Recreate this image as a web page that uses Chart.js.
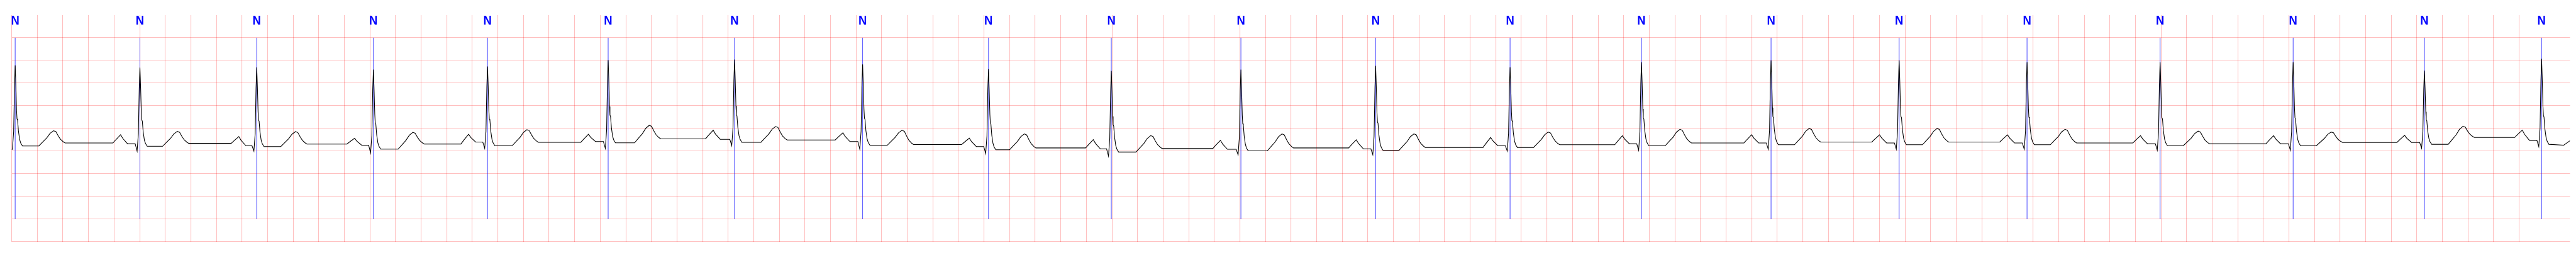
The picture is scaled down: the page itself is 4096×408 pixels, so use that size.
<!DOCTYPE html>
<html>
<head>
<meta charset="utf-8">
<script src="https://cdn.jsdelivr.net/npm/chart.js@4.4.1/dist/chart.umd.min.js"></script>
<style>
    html, body { margin: 0; padding: 0; background: #fff; }
</style>
</head>
<body>
<canvas id="ecg" width="4096" height="408"></canvas>
<script>
// Beat landmarks (time in s, amplitude in mV)
const beatLabels = ['N','N','N','N','N','N','N','N','N','N','N','N','N','N','N','N','N','N','N','N','N'];
const rTime = [0.027, 1.002, 1.915, 2.827, 3.719, 4.662, 5.650, 6.651, 7.635, 8.595, 9.608, 10.661, 11.712, 12.739, 13.752, 14.753, 15.753, 16.793, 17.833, 18.859, 19.775];
const rMv   = [0.89, 0.843, 0.845, 0.798, 0.866, 1.005, 1.018, 0.91, 0.808, 0.768, 0.798, 0.88, 0.85, 0.96, 1.0, 1.0, 0.96, 0.96, 0.96, 0.776, 1.037];
const qMv   = [-0.96, -1.0, -1.0, -1.04, -0.94, -0.94, -0.88, -0.957, -1.055, -1.109, -1.083, -1.08, -1.0, -0.98, -0.96, -0.96, -0.96, -0.98, -0.98, -0.935, -0.899];
const prMv  = [-0.955, -0.84, -0.88, -0.87, -0.8, -0.79, -0.74, -0.79, -0.9, -0.95, -0.96, -0.95, -0.88, -0.84, -0.82, -0.82, -0.82, -0.84, -0.84, -0.81, -0.76];
const stMv  = [-0.886, -0.894, -0.9, -0.957, -0.88, -0.818, -0.806, -0.87, -0.97, -1.02, -0.995, -0.98, -0.92, -0.88, -0.86, -0.86, -0.86, -0.88, -0.88, -0.85, -0.85];
const tTime = [0.327, 1.294, 2.218, 3.135, 4.027, 4.983, 5.971, 6.959, 7.915, 8.903, 9.929, 10.96, 12.01, 13.04, 14.05, 15.05, 16.05, 17.09, 18.13, 19.160, null];
const tMv   = [-0.55, -0.566, -0.57, -0.586, -0.528, -0.432, -0.457, -0.54, -0.621, -0.659, -0.621, -0.62, -0.58, -0.52, -0.5, -0.5, -0.52, -0.56, -0.58, -0.454, null];
const tpMv  = [-0.82, -0.83, -0.845, -0.843, -0.806, -0.73, -0.755, -0.856, -0.93, -0.944, -0.93, -0.92, -0.86, -0.82, -0.8, -0.8, -0.82, -0.84, -0.81, -0.70, null];
const pTime = [null, 0.851, 1.775, 2.680, 3.571, 4.508, 5.483, 6.497, 7.485, 8.454, 9.448, 10.51, 11.56, 12.59, 13.60, 14.60, 15.60, 16.64, 17.68, 18.704, 19.624];
const pMv   = [null, -0.64, -0.679, -0.717, -0.629, -0.629, -0.54, -0.596, -0.715, -0.747, -0.763, -0.75, -0.7, -0.66, -0.64, -0.64, -0.64, -0.66, -0.66, -0.653, -0.537];
const tailTime = [19.948, 19.997];
const tailMv = [-0.87, -0.77];

// Wave shapes measured on the first beats (offset s, fraction of the wave height)
const pRiseOff = [-0.06, -0.037, 0], pRiseFrac = [0, 0.4, 1];
const pFallOff = [0.018, 0.055], pFallFrac = [0.58, 0];
const qrsRiseOff = [-0.037, -0.022, -0.012, -0.0053, 0], qrsRiseFrac = [null, 0, 0.21, 0.76, 1];
const qrsFallOff = [0.0053, 0.0107, 0.0142, 0.0187, 0.0257, 0.0348, 0.0436, 0.057];
const qrsFallFrac = [0.75, 0.44, 0.335, 0.32, 0.18, 0.08, 0.035, 0];
const tRiseOff = [-0.115, -0.08, -0.054, -0.027, 0], tRiseFrac = [0, 0.3, 0.52, 0.83, 1];
const tFallOff = [0.018, 0.036, 0.054, 0.075, 0.09], tFallFrac = [0.93, 0.59, 0.3, 0.1, 0];

const xMax = 7199 / 360;
const annTop = 1.5, annBottom = -2.5;

// Build the trace from the landmarks
const trace = [];
for (let i = 0; i < rTime.length; i++) {
    if (pTime[i] !== null) {
        const base = tpMv[i - 1];
        pRiseOff.forEach((o, k) => trace.push({ x: pTime[i] + o, y: base + pRiseFrac[k] * (pMv[i] - base) }));
        pFallOff.forEach((o, k) => trace.push({ x: pTime[i] + o, y: prMv[i] + pFallFrac[k] * (pMv[i] - prMv[i]) }));
    }
    qrsRiseOff.forEach((o, k) => {
        const y = k === 0 ? prMv[i] : qMv[i] + qrsRiseFrac[k] * (rMv[i] - qMv[i]);
        trace.push({ x: rTime[i] + o, y: y });
    });
    qrsFallOff.forEach((o, k) => trace.push({ x: rTime[i] + o, y: stMv[i] + qrsFallFrac[k] * (rMv[i] - stMv[i]) }));
    if (tTime[i] !== null) {
        tRiseOff.forEach((o, k) => trace.push({ x: tTime[i] + o, y: stMv[i] + tRiseFrac[k] * (tMv[i] - stMv[i]) }));
        tFallOff.forEach((o, k) => trace.push({ x: tTime[i] + o, y: tpMv[i] + tFallFrac[k] * (tMv[i] - tpMv[i]) }));
    }
}
tailTime.forEach((t, k) => trace.push({ x: t, y: tailMv[k] }));

// Annotation markers: one vertical segment per beat
const markers = [];
rTime.forEach(t => {
    markers.push({ x: t, y: annTop }, { x: t, y: annBottom }, { x: t, y: null });
});

const gridColor = 'rgba(255, 0, 0, 0.25)';

const beatText = {
    id: 'beatText',
    afterDatasetsDraw(chart) {
        const { ctx, chartArea } = chart;
        const xs = chart.scales.x;
        ctx.save();
        ctx.fillStyle = '#0000ff';
        ctx.font = 'bold 21px "Liberation Sans", Arial, sans-serif';
        ctx.textAlign = 'center';
        ctx.textBaseline = 'alphabetic';
        rTime.forEach((t, i) => {
            ctx.save();
            ctx.translate(xs.getPixelForValue(t), chartArea.top + 15.1);
            ctx.scale(0.88, 1);
            ctx.fillText(beatLabels[i], 0, 0);
            ctx.restore();
        });
        ctx.restore();
    }
};

new Chart(document.getElementById('ecg'), {
    type: 'line',
    data: {
        datasets: [{
            data: trace,
            borderColor: '#000000',
            borderWidth: 1.1,
            pointRadius: 0,
            tension: 0
        }, {
            data: markers,
            borderColor: 'rgba(0, 0, 255, 0.5)',
            borderWidth: 0.6,
            pointRadius: 0,
            spanGaps: false
        }]
    },
    options: {
        responsive: false,
        animation: false,
        devicePixelRatio: 1,
        layout: { padding: { left: 18.66, right: 9.5, top: 23.9, bottom: 24.1 } },
        plugins: { legend: { display: false }, tooltip: { enabled: false } },
        scales: {
            x: {
                type: 'linear',
                min: 0,
                max: xMax,
                ticks: { display: false, stepSize: 0.2 },
                afterBuildTicks: axis => {
                    axis.ticks = axis.ticks.filter(t => Math.abs(t.value / 0.2 - Math.round(t.value / 0.2)) < 1e-6);
                },
                grid: { color: gridColor, lineWidth: 1.1, drawTicks: false },
                border: { display: false }
            },
            y: {
                type: 'linear',
                min: -3,
                max: 2,
                ticks: { display: false, stepSize: 0.5 },
                afterBuildTicks: axis => {
                    axis.ticks = axis.ticks.filter(t => t.value <= 1.5 + 1e-6);
                },
                grid: { color: gridColor, lineWidth: 1.1, drawTicks: false },
                border: { display: false }
            }
        }
    },
    plugins: [beatText]
});
</script>
</body>
</html>
